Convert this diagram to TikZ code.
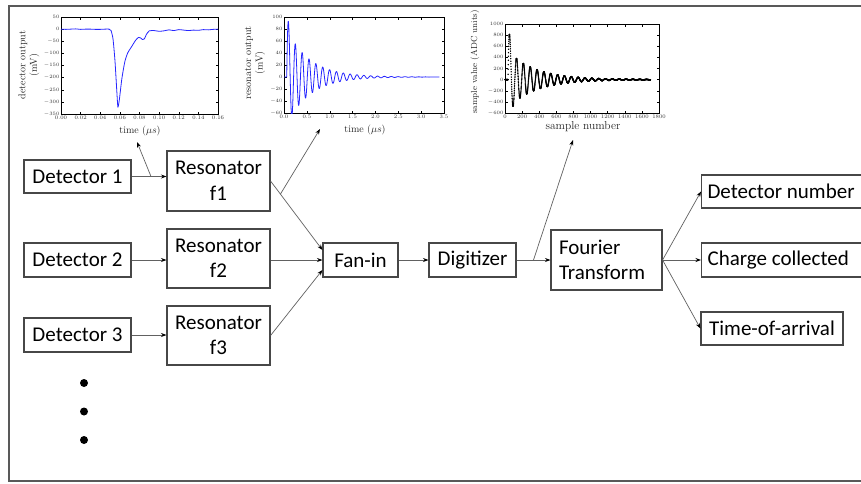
\documentclass[tikz,border=0pt]{standalone}
\usepackage{fontspec}
\newfontfamily\boxfont{Carlito}
\usetikzlibrary{arrows.meta,calc}

\begin{document}
\begin{tikzpicture}[x=1pt,y=-1pt,
  blk/.style={draw=black!72, line width=1.1pt, font=\boxfont\fontsize{21}{25.5}\selectfont,
              inner sep=0pt, align=center},
  conn/.style={draw=black!62, line width=0.7pt, -{Stealth[length=5.5pt,width=4pt,color=black]}},
  tick/.style={font=\fontsize{5.5}{6}\selectfont, inner sep=0.8pt, text=black!80},
  axlab/.style={font=\fontsize{10}{11.5}\selectfont, inner sep=0pt, align=center, text=black!85},
  axbox/.style={draw=black, line width=0.5pt},
  tk/.style={line width=0.4pt},
  dot/.style={circle, fill=black, inner sep=0pt, minimum size=8pt}]

\useasboundingbox (0,0) rectangle (861,483);
\clip (0,0) rectangle (861,483);
\fill[white] (0,0) rectangle (861,483);

% outer frame
\draw[black!65, line width=2pt] (9,6) rectangle (890,481);

% ---------------- plot: detector output ----------------
\draw[axbox] (61,17) rectangle (218,114);
\foreach \i/\l in {0/0.00,1/0.02,2/0.04,3/0.06,4/0.08,5/0.10,6/0.12,7/0.14,8/0.16}{
  \draw[tk] ({61+19.625*\i},114) -- ++(0,-2.5) ({61+19.625*\i},17) -- ++(0,2.5);
  \node[tick,anchor=north] (ax\i) at ({61+19.625*\i},114.5) {\l};}
\foreach \j/\l in {0/50,1/0,2/-50,3/-100,4/-150,5/-200,6/-250,7/-300,8/-350}{
  \draw[tk] (61,{17+12.125*\j}) -- ++(2.5,0) (218,{17+12.125*\j}) -- ++(-2.5,0);
  \node[tick,anchor=east] (ay\j) at (60.5,{17+12.125*\j}) {$\l$};}
\node[axlab] (alx) at (140,131) {time ($\mu s$)};
\node[axlab, rotate=90] (aly) at (29,65) {detector output\\(mV)};
\begin{scope}[shift={(61,29.125)}, x=981.25pt, y=0.2425pt]
  \draw[blue!85!white, line width=0.8pt, line join=round] plot[smooth, tension=0.35] coordinates {
    (0,0) (0.005,-1) (0.01,0) (0.015,1) (0.02,-1) (0.025,0) (0.03,0) (0.035,-1) (0.04,-1)
    (0.045,0) (0.049,0) (0.051,-6) (0.053,-40) (0.055,-130) (0.057,-265) (0.058,-322)
    (0.0595,-290) (0.062,-205) (0.065,-135) (0.068,-98) (0.072,-72) (0.076,-46)
    (0.079,-34) (0.081,-36) (0.083,-43) (0.085,-40) (0.087,-22) (0.09,-7) (0.095,-6)
    (0.1,-9) (0.105,-7) (0.11,-3) (0.115,-6) (0.12,-2) (0.125,-4) (0.13,-6) (0.135,-4)
    (0.14,-5) (0.145,-2) (0.15,-3) (0.155,-1) (0.16,0)};
\end{scope}

% ---------------- plot: resonator output ----------------
\draw[axbox] (284,17) rectangle (444,113);
\foreach \i/\l in {0/0.0,1/0.5,2/1.0,3/1.5,4/2.0,5/2.5,6/3.0,7/3.5}{
  \draw[tk] ({284+22.857*\i},113) -- ++(0,-2.5) ({284+22.857*\i},17) -- ++(0,2.5);
  \node[tick,anchor=north] (bx\i) at ({284+22.857*\i},113.5) {\l};}
\foreach \j/\l in {0/100,1/80,2/60,3/40,4/20,5/0,6/-20,7/-40,8/-60}{
  \draw[tk] (284,{17+12*\j}) -- ++(2.5,0) (444,{17+12*\j}) -- ++(-2.5,0);
  \node[tick,anchor=east] (by\j) at (283.5,{17+12*\j}) {$\l$};}
\node[axlab] (blx) at (365,129.5) {time ($\mu s$)};
\node[axlab, rotate=90] (bly) at (255,63) {resonator output\\(mV)};
\begin{scope}[shift={(284,77)}, x=45.714pt, y=0.6pt]
  \clip (0,-60) rectangle (3.5,100);
  \draw[blue!85!white, line width=0.8pt, line join=round] (0,0) -- (0.06,0)
    plot[domain=0.06:3.4, samples=900]
    (\x,{80*exp(-(\x-0.06)/0.5)*(1+0.6*exp(-(\x-0.06)/0.04))*sin(2400*(\x-0.06))});
\end{scope}

% ---------------- plot: digitized samples ----------------
\draw[axbox] (505,24) rectangle (659,113);
\foreach \i/\l in {0/0,1/200,2/400,3/600,4/800,5/1000,6/1200,7/1400,8/1600,9/1800}{
  \draw[tk] ({505+17.111*\i},113) -- ++(0,-2.5) ({505+17.111*\i},24) -- ++(0,2.5);
  \node[tick,anchor=north] (cx\i) at ({505+17.111*\i},113.5) {\l};}
\foreach \j/\l in {0/1000,1/800,2/600,3/400,4/200,5/0,6/-200,7/-400,8/-600}{
  \draw[tk] (505,{24+11.125*\j}) -- ++(2.5,0) (659,{24+11.125*\j}) -- ++(-2.5,0);
  \node[tick,anchor=east] (cy\j) at (504.5,{24+11.125*\j}) {$\l$};}
\node[axlab, font=\fontsize{11.5}{13}\selectfont] (clx) at (583,127) {sample number};
\node[axlab, rotate=90, font=\fontsize{8.8}{10}\selectfont] (cly) at (475,62) {sample value (ADC units)};
\begin{scope}[shift={(505,79.625)}, x=0.085556pt, y=0.055625pt]
  \path plot[only marks, mark=*, mark size=0.45pt, mark options={fill=black, draw=none},
             domain=1:35, samples=35] (\x,0);
  \path plot[only marks, mark=*, mark size=0.45pt, mark options={fill=black, draw=none},
             domain=36:1700, samples=1665]
    (\x,{500*exp(-(\x-35)/330)*(1+1.5*exp(-(\x-35)/25))*sin(4.5*(\x-35))});
\end{scope}

% ---------------- signal chain ----------------
\node[blk, minimum width=107pt, minimum height=33pt] (d1) at (77.5,176.5) {Detector 1};
\node[blk, minimum width=107pt, minimum height=34pt] (d2) at (77.5,260) {Detector 2};
\node[blk, minimum width=107pt, minimum height=34pt] (d3) at (77.5,335) {Detector 3};

\node[blk, minimum width=103pt, minimum height=60pt] (r1) at (218.5,181) {Resonator\\f1};
\node[blk, minimum width=103pt, minimum height=59pt] (r2) at (218.5,258.5) {Resonator\\f2};
\node[blk, minimum width=103pt, minimum height=59pt] (r3) at (218.5,335.5) {Resonator\\f3};

\node[blk, minimum width=75pt, minimum height=34pt] (fan) at (360.5,260) {Fan-in};
\node[blk, minimum width=87pt, minimum height=34pt] (dig) at (472.5,260) {Digitizer};
\node[blk, minimum width=111pt, minimum height=60pt, text width=95pt, align=flush left]
  (ft) at (606.5,260) {Fourier\\Transform};

\node[blk, anchor=west, minimum height=33pt, inner xsep=6pt, text width=160pt, align=flush left]
  (dn) at (701,191.5) {Detector number};
\node[blk, anchor=west, minimum height=34pt, inner xsep=6pt, text width=160pt, align=flush left]
  (cc) at (701,260) {Charge collected};
\node[blk, minimum width=142pt, minimum height=33pt] (ta) at (772,328.5) {Time-of-arrival};

\node[dot] (e1) at (84,383) {};
\node[dot] (e2) at (84,411.5) {};
\node[dot] (e3) at (84,440) {};

% connectors
\draw[conn] (d1.east) -- (d1.east -| r1.west);
\draw[conn] (d2.east) -- (d2.east -| r2.west);
\draw[conn] (d3.east) -- (d3.east -| r3.west);

\coordinate (fin1) at ($(fan.west)+(0,-10)$);
\coordinate (fin3) at ($(fan.west)+(0,10)$);
\draw[conn] (r1.east) -- (fin1);
\draw[conn] (r2.east |- fan.west) -- (fan.west);
\draw[conn] (r3.east) -- (fin3);
\draw[conn] (fan.east) -- (dig.west);
\draw[conn] (dig.east) -- (ft.west);
\draw[conn] (ft.east) -- (dn.west);
\draw[conn] (ft.east) -- (cc.west);
\draw[conn] (ft.east) -- (ta.west);

% taps towards the plots
\coordinate (tap1) at (151,176.5);
\coordinate (tip1) at (137,142);
\draw[conn] (tap1) -- (tip1);
\coordinate (tap2) at ($(r1.east)!0.19!(fin1)$);
\coordinate (tip2) at (320,129);
\draw[conn] (tap2) -- (tip2);
\coordinate (tap3) at ($(dig.east)!0.5!(ft.west)$);
\coordinate (tip3) at (573,140);
\draw[conn] (tap3) -- (tip3);

\end{tikzpicture}
\end{document}
